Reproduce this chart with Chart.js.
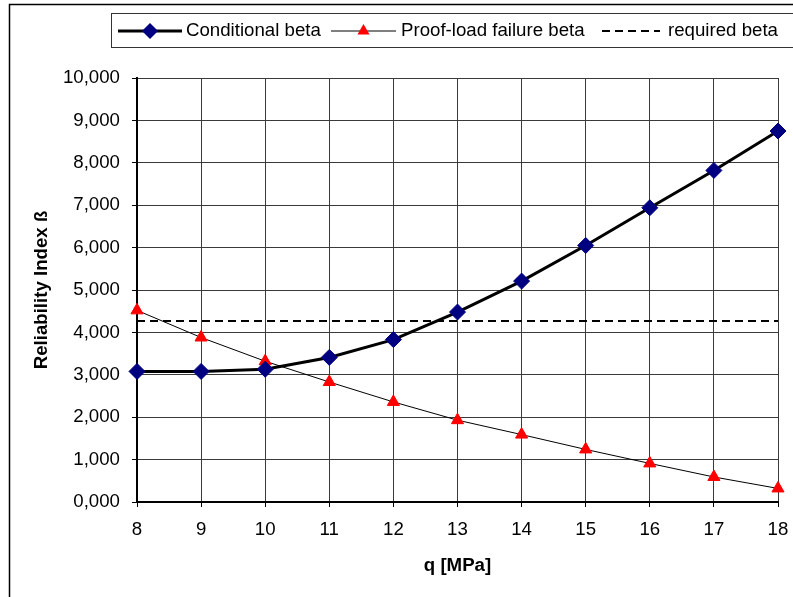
<!DOCTYPE html>
<html>
<head>
<meta charset="utf-8">
<script src="https://cdn.jsdelivr.net/npm/chart.js@4.4.1/dist/chart.umd.min.js"></script>
<style>
  html, body { margin: 0; padding: 0; background: #fff; }
  #wrap { width: 793px; height: 597px; }
</style>
</head>
<body>
<div id="wrap"><canvas id="betaChart" width="793" height="597"></canvas></div>
<script>
// data
const qValues = [8, 9, 10, 11, 12, 13, 14, 15, 16, 17, 18];
const conditionalBeta = [3.08, 3.08, 3.13, 3.41, 3.83, 4.48, 5.21, 6.05, 6.94, 7.82, 8.75];
const proofLoadBeta = [4.52, 3.88, 3.32, 2.83, 2.36, 1.93, 1.59, 1.24, 0.91, 0.59, 0.32];
const requiredBeta = [4.27, 4.27, 4.27, 4.27, 4.27, 4.27, 4.27, 4.27, 4.27, 4.27, 4.27];
const yTickValues = [0, 1, 2, 3, 4, 5, 6, 7, 8, 9, 10];

const FONT = "'Liberation Sans', Arial, sans-serif";
const FONT_SIZE = 18.67;

function formatBeta(v) {
  return v.toFixed(3).replace(".", ",");
}

// outer frame + legend box drawn by hand (Excel style)
const frameLegend = {
  id: "frameLegend",
  afterDraw(chart) {
    const ctx = chart.ctx;
    ctx.save();
    ctx.strokeStyle = "#000";
    ctx.lineWidth = 1.5;
    ctx.strokeRect(9.5, 4.5, 800, 620);

    ctx.lineWidth = 1;
    ctx.strokeStyle = "#333";
    ctx.strokeRect(111.5, 13.5, 700, 34);

    const slots = [
      { x: 118, w: 64, tx: 186 },
      { x: 331, w: 65, tx: 401 },
      { x: 602, w: 58, tx: 668 },
    ];
    const y = 31;
    chart.data.datasets.forEach((ds, i) => {
      const s = slots[i];
      ctx.beginPath();
      ctx.setLineDash(ds.borderDash || []);
      ctx.lineWidth = ds.borderWidth;
      ctx.strokeStyle = ds.borderColor;
      ctx.moveTo(s.x, y);
      ctx.lineTo(s.x + s.w, y);
      ctx.stroke();
      ctx.setLineDash([]);
      const cx = s.x + s.w / 2;
      if (ds.pointStyle === "rectRot" && ds.pointRadius > 0) {
        const r = ds.pointRadius;
        ctx.beginPath();
        ctx.moveTo(cx, y - r);
        ctx.lineTo(cx + r, y);
        ctx.lineTo(cx, y + r);
        ctx.lineTo(cx - r, y);
        ctx.closePath();
        ctx.fillStyle = ds.pointBackgroundColor;
        ctx.fill();
      } else if (ds.pointStyle === "triangle" && ds.pointRadius > 0) {
        const r = ds.pointRadius;
        ctx.beginPath();
        ctx.moveTo(cx, y - r);
        ctx.lineTo(cx + r * 0.866, y + r / 2);
        ctx.lineTo(cx - r * 0.866, y + r / 2);
        ctx.closePath();
        ctx.fillStyle = ds.pointBackgroundColor;
        ctx.fill();
      }
      ctx.fillStyle = "#000";
      ctx.font = FONT_SIZE + "px " + FONT;
      ctx.textBaseline = "middle";
      ctx.textAlign = "left";
      ctx.fillText(ds.label, s.tx, y);
    });
    ctx.restore();
  },
};

const ctx = document.getElementById("betaChart").getContext("2d");
new Chart(ctx, {
  type: "line",
  data: {
    labels: qValues,
    datasets: [
      {
        label: "Conditional beta",
        data: conditionalBeta,
        borderColor: "#000",
        borderWidth: 3,
        pointStyle: "rectRot",
        pointRadius: 8,
        pointBackgroundColor: "#000080",
        pointBorderColor: "#000080",
        pointBorderWidth: 1,
        tension: 0,
      },
      {
        label: "Proof-load failure beta",
        data: proofLoadBeta,
        borderColor: "#000",
        borderWidth: 1,
        pointStyle: "triangle",
        pointRadius: 7,
        pointBackgroundColor: "#ff0000",
        pointBorderColor: "#ff0000",
        pointBorderWidth: 1,
        tension: 0,
      },
      {
        label: "required beta",
        data: requiredBeta,
        borderColor: "#000",
        borderWidth: 2,
        borderDash: [8, 5],
        pointRadius: 0,
        tension: 0,
      },
    ],
  },
  options: {
    responsive: false,
    animation: false,
    devicePixelRatio: 1,
    layout: { padding: { left: 27, right: 15, top: 78, bottom: 16 } },
    plugins: {
      legend: { display: false },
      tooltip: { enabled: false },
    },
    scales: {
      x: {
        offset: false,
        grid: { color: "#3a3a3a", lineWidth: 1, tickColor: "#000", tickLength: 5 },
        border: { color: "#000", width: 2 },
        ticks: {
          color: "#000",
          padding: 12,
          maxRotation: 0,
          font: { family: FONT, size: FONT_SIZE },
        },
        title: {
          display: true,
          text: "q [MPa]",
          color: "#000",
          padding: { top: 4, bottom: 4 },
          font: { family: FONT, size: FONT_SIZE, weight: "bold" },
        },
        afterFit(scale) {
          scale.height = 79;
          scale.paddingLeft = 0;
          scale.paddingRight = 0;
        },
      },
      y: {
        min: 0,
        max: 10,
        afterBuildTicks(scale) {
          scale.ticks = yTickValues.map((v) => ({ value: v }));
        },
        grid: { color: "#3a3a3a", lineWidth: 1, tickColor: "#000", tickLength: 5 },
        border: { color: "#000", width: 2 },
        ticks: {
          color: "#000",
          padding: 12,
          font: { family: FONT, size: FONT_SIZE },
          callback: (v) => formatBeta(v),
        },
        title: {
          display: true,
          text: "Reliability Index ß",
          color: "#000",
          padding: { top: 4, bottom: 4 },
          font: { family: FONT, size: FONT_SIZE, weight: "bold" },
        },
        afterFit(scale) { scale.width = 110; },
      },
    },
  },
  plugins: [frameLegend],
});
</script>
</body>
</html>
